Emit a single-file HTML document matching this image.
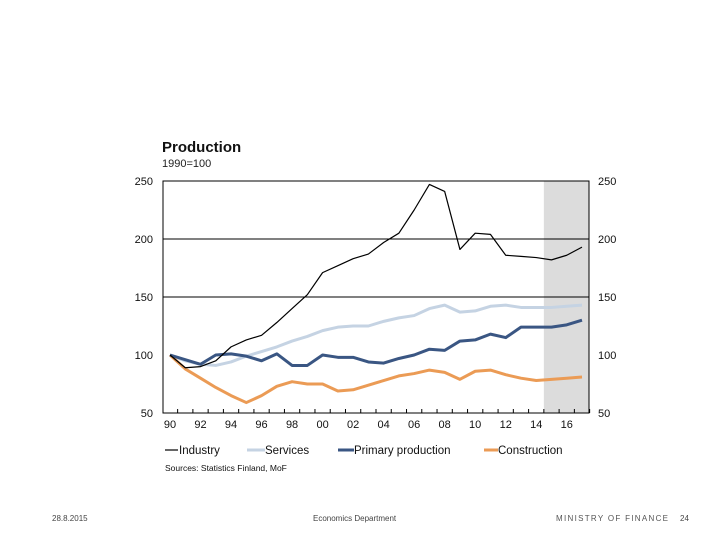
<!DOCTYPE html>
<html><head><meta charset="utf-8"><style>
body{margin:0;background:#fff;font-family:"Liberation Sans",sans-serif}
svg text{font-family:"Liberation Sans",sans-serif}
</style></head><body>
<svg width="720" height="540" viewBox="0 0 720 540" id="c">
<text x="162" y="152" font-size="15" font-weight="bold" fill="#111">Production</text>
<text x="162" y="167" font-size="11" fill="#222">1990=100</text>
<g id="plot"></g>
<g font-size="11.5" fill="#111">
<line x1="165" y1="450" x2="178" y2="450" stroke="#000" stroke-width="1.2"/><text x="179" y="454">Industry</text>
<line x1="247" y1="450" x2="265" y2="450" stroke="#c5d3e3" stroke-width="3"/><text x="265" y="454">Services</text>
<line x1="338" y1="450" x2="354" y2="450" stroke="#3a5683" stroke-width="3"/><text x="354" y="454">Primary production</text>
<line x1="484" y1="450" x2="498" y2="450" stroke="#eb9b55" stroke-width="3"/><text x="498" y="454">Construction</text>
</g>
<text x="165" y="471" font-size="8.5" fill="#111">Sources: Statistics Finland, MoF</text>
<text x="52" y="521" font-size="8" fill="#444">28.8.2015</text>
<text x="313" y="521" font-size="8" fill="#444">Economics Department</text>
<text x="556" y="521" font-size="8" fill="#555" letter-spacing="1.3">MINISTRY OF FINANCE</text>
<text x="680" y="521" font-size="8" fill="#444">24</text>
</svg>
<script>
const years=[1990,1991,1992,1993,1994,1995,1996,1997,1998,1999,2000,2001,2002,2003,2004,2005,2006,2007,2008,2009,2010,2011,2012,2013,2014,2015,2016,2017];
const industry=[100,89,90,95,107,113,117,128,140,152,171,177,183,187,197,205,225,247,241,191,205,204,186,185,184,182,186,193];
const services=[100,95,92,91,94,99,103,107,112,116,121,124,125,125,129,132,134,140,143,137,138,142,143,141,141,141,142,143];
const primary=[100,96,92,100,101,99,95,101,91,91,100,98,98,94,93,97,100,105,104,112,113,118,115,124,124,124,126,130];
const construction=[100,88,80,72,65,59,65,73,77,75,75,69,70,74,78,82,84,87,85,79,86,87,83,80,78,79,80,81];
const yTicks=[50,100,150,200,250];
const gridValues=[150,200];
const xLabels=["90","92","94","96","98","00","02","04","06","08","10","12","14","16"];
const forecastStart=2014.5;
const L=163,R=589,T=181,B=413;
const x=v=>170+(v-1990)*(582-170)/27;
const y=v=>B-(v-50)*(B-T)/200;
const NS="http://www.w3.org/2000/svg";
const g=document.getElementById('plot');
function mk(t,a){const e=document.createElementNS(NS,t);for(const k in a)e.setAttribute(k,a[k]);g.appendChild(e);return e;}
let s=mk('rect',{x:x(forecastStart),y:T,width:R-x(forecastStart),height:B-T,fill:'#dcdcdc'});


gridValues.forEach(v=>{let l=mk('line',{x1:L,x2:R,y1:y(v),y2:y(v),stroke:'#000','stroke-width':1});
 
 });
yTicks.forEach(v=>{
 let a=mk('text',{x:L-10,y:y(v)+4,'font-size':11,'text-anchor':'end',fill:'#111'});a.textContent=v;
 
 
 let b=mk('text',{x:R+9,y:y(v)+4,'font-size':11,fill:'#111'});b.textContent=v;
 
 
});
let f=mk('rect',{x:L,y:T,width:R-L,height:B-T,fill:'none',stroke:'#000','stroke-width':1});


years.forEach(yr=>{let t=mk('line',{x1:x(yr+0.5),x2:x(yr+0.5),y1:B,y2:B-4,stroke:'#000'});
 
 });
xLabels.forEach((lb,i)=>{let t=mk('text',{x:x(1990+2*i),y:428,'font-size':11,'text-anchor':'middle',fill:'#111'});t.textContent=lb;
 
 });
function line(d,c,w,n){const p=mk('polyline',{points:d.map((v,i)=>x(years[i])+','+y(v)).join(' '),fill:'none',stroke:c,'stroke-width':w,'stroke-linejoin':'round'});
 
 }
line(services,'#c5d3e3',3,'services-line');
line(construction,'#eb9b55',3,'construction-line');
line(primary,'#3a5683',3,'primary-production-line');
line(industry,'#000',1.2,'industry-line');
</script>
</body></html>
